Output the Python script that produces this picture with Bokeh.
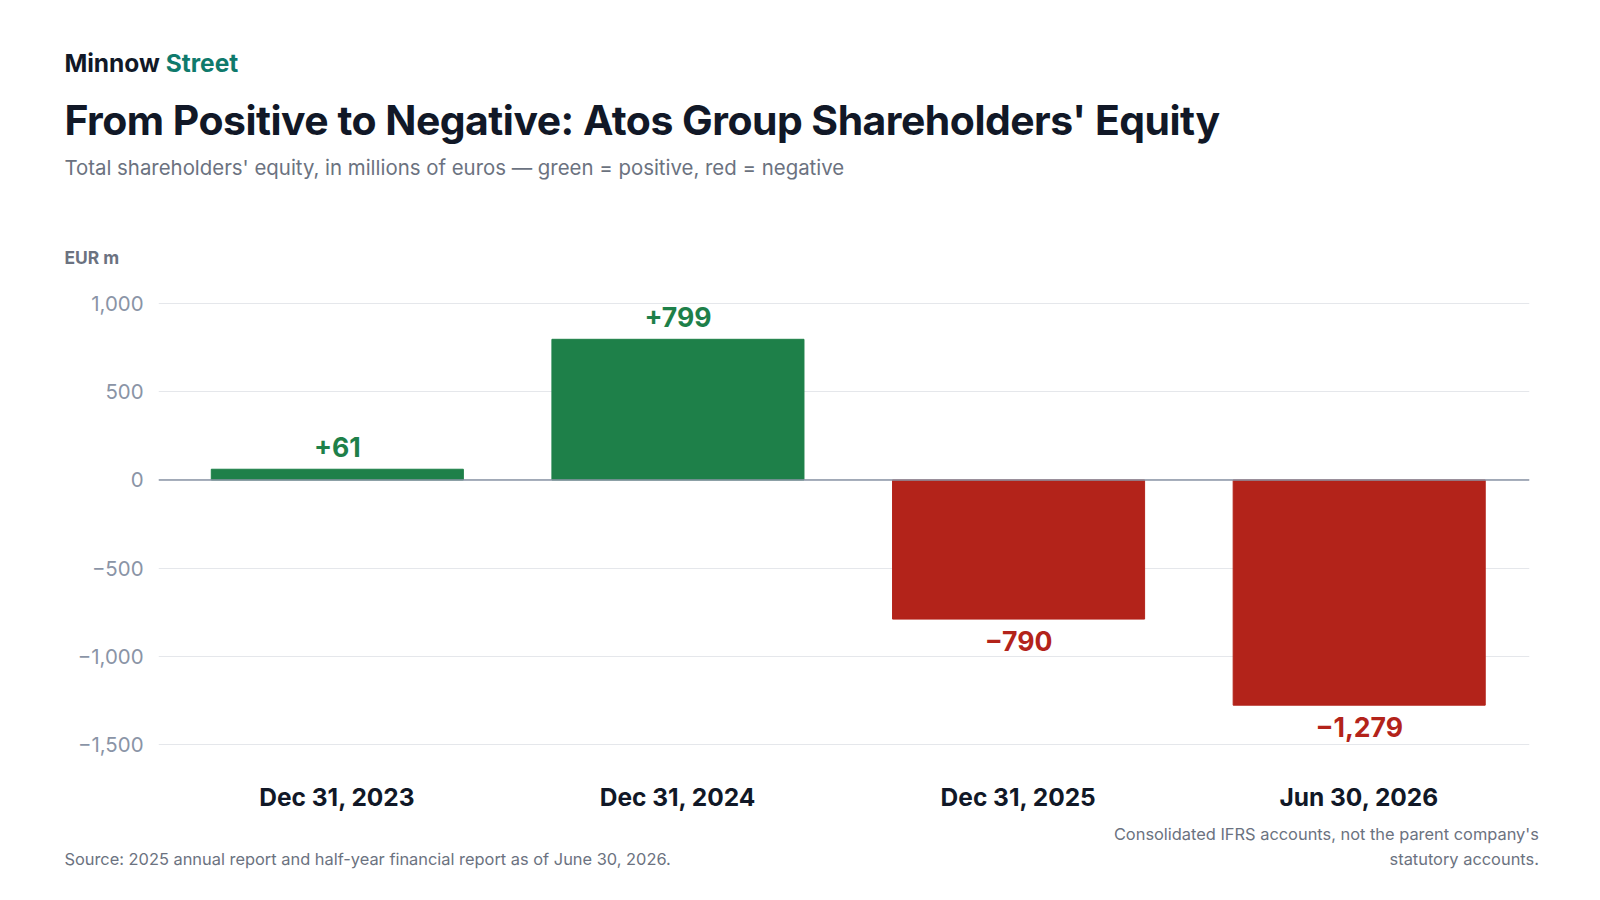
from bokeh.plotting import figure
from bokeh.models import Span, FixedTicker, Range1d, ColumnDataSource, Div
from bokeh.layouts import column
from bokeh.embed import file_html
from bokeh.resources import INLINE
from bokeh.core.properties import value

categories = ["Dec 31, 2023", "Dec 31, 2024", "Dec 31, 2025", "Jun 30, 2026"]
equity = [61, 799, -790, -1279]
value_labels = ["+61", "+799", "\u2212790", "\u22121,279"]
y_ticks = [1000, 500, 0, -500, -1000, -1500]
y_tick_labels = ["1,000", "500", "0", "\u2212500", "\u22121,000", "\u22121,500"]

GREEN = "#1e8049"
RED = "#b3231a"
FONT = "Inter"
S = 1.0225
W = 1560
HEAD_H, FIG_H, FOOT_H = 270, 545, 60

def px(v):
    return round(v * S, 1)

xs = list(range(len(categories)))
colors = [GREEN if v >= 0 else RED for v in equity]
src = ColumnDataSource(dict(x=xs, top=equity, color=colors, lab=value_labels,
                            off=[-px(12) if v >= 0 else px(12) for v in equity],
                            base=["bottom" if v >= 0 else "top" for v in equity]))

p = figure(width=W, height=FIG_H, output_backend="svg", toolbar_location=None,
           x_range=Range1d(-0.525, 3.5), y_range=Range1d(-1650, 1150),
           min_border_left=158, min_border_right=W - 1529,
           min_border_top=7, min_border_bottom=45)
p.outline_line_color = None
p.background_fill_color = "white"
p.border_fill_color = "white"

p.vbar(x="x", top="top", bottom=0, width=0.74, color="color", source=src)
p.add_layout(Span(location=0, dimension="width", line_color="#8a94a6", line_width=1.5))

p.text(x="x", y="top", text="lab", text_color="color", y_offset="off",
       text_baseline="base", text_align="center", source=src,
       text_font=value(FONT), text_font_size=f"{px(26)}px", text_font_style="bold")

p.yaxis.ticker = FixedTicker(ticks=y_ticks)
p.yaxis.major_label_overrides = {t: l for t, l in zip(y_ticks, y_tick_labels)}
p.yaxis.axis_line_color = None
p.yaxis.major_tick_line_color = None
p.yaxis.minor_tick_line_color = None
p.yaxis.major_label_text_font = FONT
p.yaxis.major_label_text_font_size = f"{px(20)}px"
p.yaxis.major_label_text_color = "#8a94a6"
p.yaxis.major_label_standoff = 9

p.xaxis.ticker = FixedTicker(ticks=xs)
p.xaxis.major_label_overrides = {i: c for i, c in enumerate(categories)}
p.xaxis.axis_line_color = None
p.xaxis.major_tick_line_color = None
p.xaxis.minor_tick_line_color = None
p.xaxis.major_label_text_font = FONT
p.xaxis.major_label_text_font_size = f"{px(24)}px"
p.xaxis.major_label_text_font_style = "bold"
p.xaxis.major_label_text_color = "#111827"
p.xaxis.major_label_standoff = 5

p.xgrid.grid_line_color = None
p.ygrid.grid_line_color = "#e5e7eb"

def item(text, baseline, size, color, bold=False, left=None, right=None, origin=0, ls=0):
    fs = px(size)
    top = round(px(baseline) - 0.86 * fs - origin, 1)
    pos = f"left:{left}px;" if left is not None else f"right:{right}px;text-align:right;"
    return (f'<div style="position:absolute;top:{top}px;{pos}font-family:{FONT};'
            f'font-size:{fs}px;line-height:1;white-space:nowrap;color:{color};letter-spacing:{ls}px;'
            f'font-weight:{700 if bold else 400};">{text}</div>')

L = px(63)
head = Div(text=(f'<div style="position:relative;width:{W}px;height:{HEAD_H}px;">'
                 + item('Minnow <span style="color:#0f7a6c">Street</span>', 70, 24, "#111827", True, left=L)
                 + item("From Positive to Negative: Atos Group Shareholders' Equity", 132, 40, "#111827", True, left=L, ls=-0.5)
                 + item("Total shareholders' equity, in millions of euros \u2014 green = positive, red = negative", 172, 20, "#6b7280", left=L)
                 + item("EUR m", 258, 17, "#6b7280", True, left=L)
                 + '</div>'), width=W, height=HEAD_H, margin=0)

O = HEAD_H + FIG_H
R = round(W - px(1505), 1)
foot = Div(text=(f'<div style="position:relative;width:{W}px;height:{FOOT_H}px;">'
                 + item("Source: 2025 annual report and half-year financial report as of June 30, 2026.", 846, 16, "#6b7280", left=L, origin=O)
                 + item("Consolidated IFRS accounts, not the parent company's", 822, 16, "#6b7280", right=R, origin=O)
                 + item("statutory accounts.", 846, 16, "#6b7280", right=R, origin=O)
                 + '</div>'), width=W, height=FOOT_H, margin=0)

layout = column(head, p, foot, spacing=0)
open("out.html", "w").write(file_html(layout, INLINE))
